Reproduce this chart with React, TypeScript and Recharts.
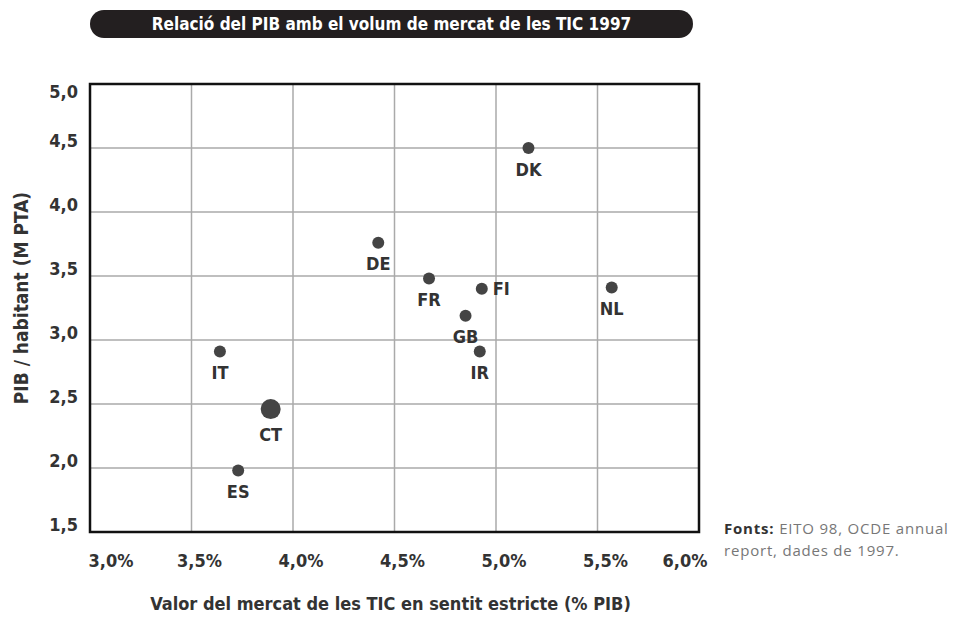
import React from 'react';
import {
  ScatterChart,
  Scatter,
  XAxis,
  YAxis,
  CartesianGrid,
  ReferenceArea,
  LabelList
} from 'recharts';

const countries = ['DK', 'DE', 'FR', 'FI', 'NL', 'GB', 'IT', 'IR', 'CT', 'ES'];
const ticValues = [5.16, 4.42, 4.67, 4.93, 5.57, 4.85, 3.64, 4.92, 3.89, 3.73];
const pibValues = [4.5, 3.76, 3.48, 3.4, 3.41, 3.19, 2.91, 2.91, 2.46, 1.98];
const xTicks = [3.0, 3.5, 4.0, 4.5, 5.0, 5.5, 6.0];
const yTicks = [1.5, 2.0, 2.5, 3.0, 3.5, 4.0, 4.5, 5.0];

const FONT = "'Liberation Sans Narrow', 'DejaVu Sans Condensed', sans-serif";
const DOT = '#444';
const TEXT = '#333';

// punts que porten l'etiqueta a la dreta en lloc de a sota
const rightLabels = ['FI'];
const bigDots = ['CT'];

const data = countries.map((name, i) => ({
  name,
  x: ticValues[i],
  y: pibValues[i]
}));

const comma = (v: number) => v.toFixed(1).replace('.', ',');

const dotRadius = (name: string) => (bigDots.includes(name) ? 10 : 6);

const DotShape = (props: any) => {
  const { cx, cy, payload } = props;
  return <circle cx={cx} cy={cy} r={dotRadius(payload.name)} fill={DOT} />;
};

const PointLabel = (props: any) => {
  const { x, y, width, height, value } = props;
  const cx = x + width / 2;
  const cy = y + height / 2;
  const r = dotRadius(value);
  if (rightLabels.includes(value)) {
    return (
      <text x={cx + r + 5} y={cy} dominantBaseline='central' fontFamily={FONT}
        fontSize={18} fontWeight='bold' fill={TEXT}>
        {value}
      </text>
    );
  }
  return (
    <text x={cx} y={cy + r + 15} textAnchor='middle' dominantBaseline='central'
      fontFamily={FONT} fontSize={18} fontWeight='bold' fill={TEXT}>
      {value}
    </text>
  );
};

const XTick = (props: any) => {
  const { x, y, payload, index } = props;
  let shift = 8;
  if (index === 0) shift = 21;
  if (index === xTicks.length - 1) shift = -14;
  return (
    <text x={x + shift} y={y + 20} textAnchor='middle' dominantBaseline='central'
      fontFamily={FONT} fontSize={18} fontWeight='bold' fill={TEXT}>
      {comma(payload.value) + '%'}
    </text>
  );
};

const YTick = (props: any) => {
  const { x, y, payload, index } = props;
  const shift = index === yTicks.length - 1 ? 7 : -8;
  return (
    <text x={x - 4} y={y + shift} textAnchor='end' dominantBaseline='central'
      fontFamily={FONT} fontSize={18} fontWeight='bold' fill={TEXT}>
      {comma(payload.value)}
    </text>
  );
};

const YTitle = (props: any) => {
  const { viewBox } = props;
  const cy = viewBox.y + viewBox.height / 2 - 10;
  return (
    <text transform={`translate(21, ${cy}) rotate(-90)`} textAnchor='middle'
      dominantBaseline='central' fontFamily={FONT} fontSize={19}
      fontWeight='bold' fill={TEXT}>
      PIB / habitant (M PTA)
    </text>
  );
};

const XTitle = (props: any) => {
  const { viewBox } = props;
  const cx = viewBox.x + viewBox.width / 2;
  return (
    <text x={cx - 4} y={603} textAnchor='middle' dominantBaseline='central'
      fontFamily={FONT} fontSize={18} fontWeight='bold' fill={TEXT}>
      Valor del mercat de les TIC en sentit estricte (% PIB)
    </text>
  );
};

export default function App() {
  return (
    <div style={{ position: 'absolute', left: 0, top: 0, width: 958, height: 617, background: '#fff' }}>
      <div
        style={{
          position: 'absolute',
          left: 90,
          top: 10,
          width: 603,
          height: 28,
          borderRadius: 14,
          background: '#231f20',
          color: '#fff',
          fontFamily: FONT,
          fontWeight: 'bold',
          fontSize: 17,
          lineHeight: '28px',
          textAlign: 'center'
        }}
      >
        Relació del PIB amb el volum de mercat de les TIC 1997
      </div>

      <ScatterChart
        width={958}
        height={617}
        margin={{ top: 84, right: 259, bottom: 0, left: 0 }}
      >
        <CartesianGrid stroke='#aaa' strokeWidth={1.5} />
        <XAxis
          type='number'
          dataKey='x'
          domain={[3, 6]}
          ticks={xTicks}
          axisLine={false}
          tickLine={false}
          tick={<XTick />}
          height={85}
          label={<XTitle />}
        />
        <YAxis
          type='number'
          dataKey='y'
          domain={[1.5, 5]}
          ticks={yTicks}
          axisLine={false}
          tickLine={false}
          tick={<YTick />}
          width={90}
          label={<YTitle />}
        />
        <ReferenceArea
          x1={3}
          x2={6}
          y1={1.5}
          y2={5}
          fill='none'
          stroke='#111'
          strokeWidth={2.5}
          fillOpacity={0}
        />
        <Scatter data={data} shape={<DotShape />} isAnimationActive={false}>
          <LabelList dataKey='name' content={<PointLabel />} />
        </Scatter>
      </ScatterChart>

      <div
        style={{
          position: 'absolute',
          left: 724,
          top: 517,
          fontFamily: "'Open Sans', 'Liberation Sans', sans-serif",
          fontSize: 15,
          lineHeight: '22px',
          letterSpacing: 0.8,
          color: '#777',
          whiteSpace: 'nowrap'
        }}
      >
        <b style={{ color: '#333' }}>Fonts:</b> EITO 98, OCDE annual
        <br />
        report, dades de 1997.
      </div>
    </div>
  );
}
